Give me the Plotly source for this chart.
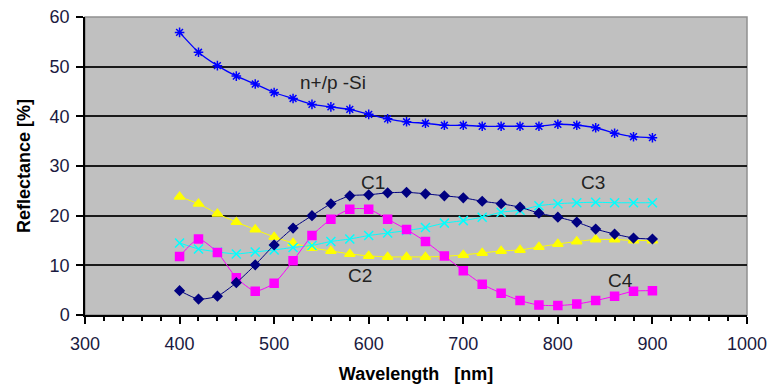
import plotly.graph_objects as go

wavelength = list(range(400, 901, 20))
si = [56.9, 52.9, 50.2, 48.1, 46.5, 44.8, 43.6, 42.4, 41.9, 41.4, 40.4, 39.5, 38.9,
      38.6, 38.2, 38.2, 38.0, 38.0, 38.0, 38.0, 38.4, 38.2, 37.7, 36.6, 35.9, 35.7]
c1 = [4.9, 3.2, 3.8, 6.5, 10.1, 14.1, 17.5, 20.0, 22.4, 24.0, 24.2, 24.6, 24.7,
      24.4, 24.0, 23.6, 22.9, 22.4, 21.7, 20.5, 19.7, 18.7, 17.3, 16.3, 15.5, 15.3]
c2 = [23.8, 22.4, 20.4, 18.7, 17.2, 15.7, 14.5, 13.5, 12.9, 12.3, 11.9, 11.7, 11.7,
      11.7, 11.8, 12.1, 12.5, 12.9, 13.1, 13.7, 14.3, 14.8, 15.2, 15.2, 15.0, 15.0]
c3 = [14.5, 13.3, 12.7, 12.3, 12.7, 13.1, 13.6, 14.0, 14.8, 15.3, 16.0, 16.5, 17.0,
      17.6, 18.5, 19.0, 19.7, 20.7, 21.1, 22.0, 22.4, 22.6, 22.7, 22.6, 22.6, 22.6]
c4 = [11.8, 15.3, 12.6, 7.5, 4.8, 6.4, 10.9, 16.0, 19.3, 21.3, 21.3, 19.3, 17.2,
      14.8, 11.9, 8.9, 6.2, 4.4, 2.9, 2.0, 1.9, 2.2, 2.9, 3.8, 4.8, 4.9]

labels = ["n+/p -Si", "C1", "C2", "C3", "C4"]
label_x = [562, 604, 591, 837, 866]
label_y = [46.9, 26.7, 7.9, 26.7, 6.9]

FONT = "Liberation Sans, Arial, sans-serif"

fig = go.Figure()

def add(y, color, symbol, size, width, name):
    fig.add_trace(go.Scatter(
        x=wavelength, y=y, mode="lines+markers", name=name,
        line=dict(color=color, width=width, shape="spline", smoothing=0.6),
        marker=dict(color=color, symbol=symbol, size=size,
                    line=dict(color=color, width=1.5)),
    ))

add(c2, "#FFFF00", "triangle-up", 9, 1, "C2")
add(c3, "#00FFFF", "x-thin-open", 9, 1, "C3")
add(c4, "#FF00FF", "square", 8, 1, "C4")
add(c1, "#000080", "diamond", 7, 1, "C1")
add(si, "#0000FF", "asterisk-open", 8, 1.3, "n+/p -Si")

for t, xx, yy in zip(labels, label_x, label_y):
    fig.add_annotation(x=xx, y=yy, text=t, showarrow=False,
                       font=dict(family=FONT, size=19, color="#222"))

fig.add_shape(type="rect", xref="paper", yref="paper", x0=0, y0=0, x1=1, y1=1,
              line=dict(color="#909090", width=1.5), layer="below")

fig.update_layout(
    width=770, height=388,
    margin=dict(l=85, r=23, t=17, b=73),
    paper_bgcolor="white", plot_bgcolor="#C0C0C0",
    showlegend=False,
    font=dict(family=FONT, size=18, color="black"),
)
fig.update_xaxes(
    range=[300, 1000], dtick=100, tick0=300,
    showgrid=False, zeroline=False, automargin=False,
    showline=True, linecolor="black", linewidth=1.5,
    ticks="outside", ticklen=7, tickcolor="black", tickwidth=1.5,
    ticklabelstandoff=5,
    minor=dict(dtick=20, ticks="outside", ticklen=4, tickcolor="black", tickwidth=1.5, showgrid=False),
    tickfont=dict(size=18, color="#1a1a40"),
    title=dict(text="<b>Wavelength&nbsp;&nbsp; [nm]</b>", font=dict(size=18), standoff=14),
)
fig.update_yaxes(
    range=[0, 60], dtick=10,
    showgrid=True, gridcolor="#1a1a1a", gridwidth=1.5, zeroline=False, automargin=False,
    showline=True, linecolor="black", linewidth=1.5,
    ticks="outside", ticklen=7, tickcolor="black", tickwidth=1.5,
    ticklabelstandoff=3,
    tickfont=dict(size=18, color="#1a1a40"),
    title=dict(text="<b>Reflectance [%]</b>", font=dict(size=18), standoff=14),
)

fig.write_html("out.html")
